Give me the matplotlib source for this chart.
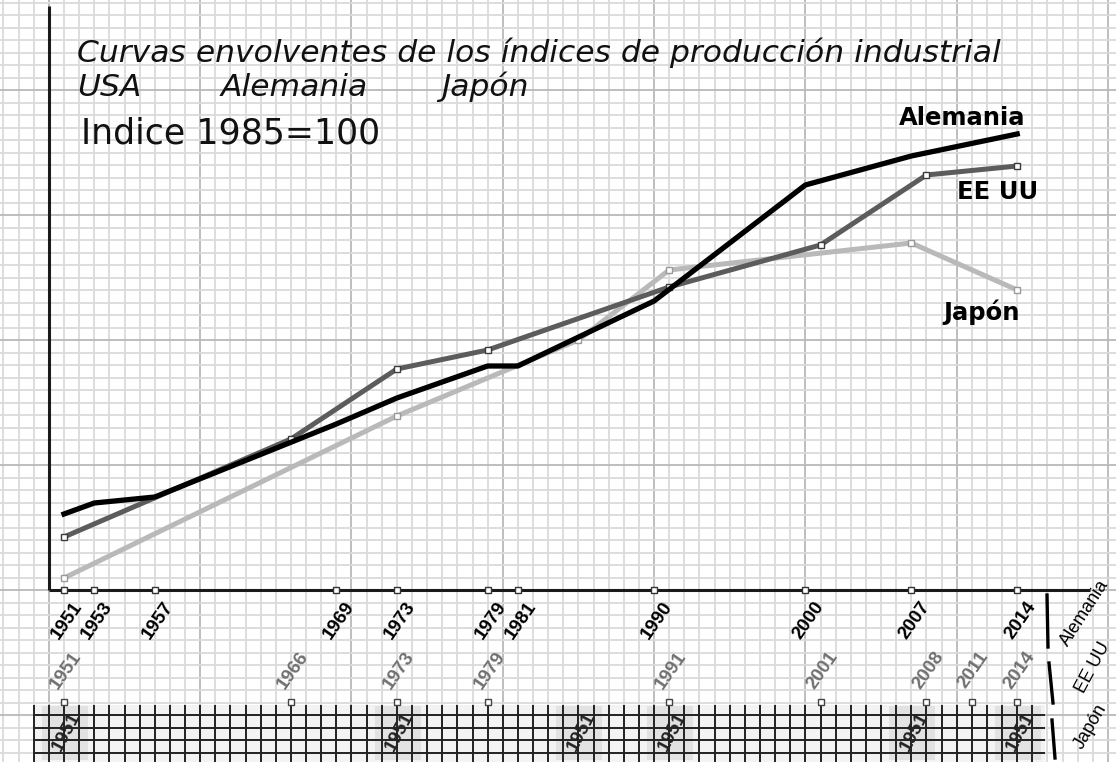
import matplotlib
matplotlib.use("Agg")
import matplotlib.pyplot as plt
import numpy as np
from matplotlib.patches import Rectangle

# ---------------- data ----------------
alemania_years = [1951, 1953, 1957, 1969, 1973, 1979, 1981, 1990, 2000, 2007, 2014]
alemania_vals = [30.4, 34.8, 37.2, 66.4, 76.8, 89.6, 89.6, 115.6, 162.0, 173.6, 182.4]

eeuu_years = [1951, 1966, 1973, 1979, 1991, 2001, 2008, 2014]
eeuu_vals = [21.2, 60.4, 88.4, 96.0, 121.2, 138.0, 166.0, 169.6]

japon_years = [1951, 1973, 1985, 1991, 2007, 2014]
japon_vals = [4.8, 69.6, 100.0, 128.0, 138.8, 120.0]

alemania_ticks = [1951, 1953, 1957, 1969, 1973, 1979, 1981, 1990, 2000, 2007, 2014]
eeuu_ticks = [1951, 1966, 1973, 1979, 1991, 2001, 2008, 2011, 2014]
japon_ticks = [1951, 1973, 1985, 1991, 2007, 2014]
japon_tick_labels = ["1951", "1951", "1951", "1951", "1951", "1951"]

title_line1 = "Curvas envolventes de los índices de producción industrial"
title_line2 = ["USA", "Alemania", "Japón"]
subtitle = "Indice 1985=100"
row_names = ["Alemania", "EE UU", "Japón"]

# ---------------- layout helpers ----------------
W, H = 1116, 762
PXY = 15.13          # pixels per year
PXV = 2.5            # pixels per index unit
X0 = 1951 - 64 / PXY
X1 = 1951 + (W - 64) / PXY
Y1 = 590 / PXV
Y0 = (590 - H) / PXV


def fx(px):
    return X0 + px / PXY


def fy(py):
    return (590 - py) / PXV


fig = plt.figure(figsize=(W / 100, H / 100), dpi=100)
ax = fig.add_axes([0, 0, 1, 1])
ax.set_xlim(X0, X1)
ax.set_ylim(Y0, Y1)
for s in ax.spines.values():
    s.set_visible(False)

# graph-paper grid
ax.set_xticks(np.arange(1950, 2021, 10))
ax.set_xticks(np.arange(1947, 2021, 1), minor=True)
ax.set_yticks(np.arange(-50, 236, 50))
ax.set_yticks(np.arange(-65, 236, 5), minor=True)
ax.tick_params(which="both", length=0, labelbottom=False, labelleft=False)
ax.grid(which="minor", color="#dadada", lw=1.3)
ax.grid(which="major", color="#b9b9b9", lw=1.3)
ax.set_axisbelow(True)

# axes lines
ax.plot([fx(49), fx(49)], [0, fy(6)], color="#1a1a1a", lw=2.2, zorder=3, solid_capstyle="butt")
ax.plot([fx(49), fx(1090)], [0, 0], color="#1a1a1a", lw=2.2, zorder=3, solid_capstyle="butt")

# series
ax.plot(japon_years, japon_vals, color="#b9b9b9", lw=3.6, zorder=4,
        marker="s", ms=4.2, mfc="white", mec="#9a9a9a", mew=1.0)
ax.plot(eeuu_years, eeuu_vals, color="#5c5c5c", lw=3.6, zorder=5,
        marker="s", ms=4.2, mfc="white", mec="#3c3c3c", mew=1.0)
ax.plot(alemania_years, alemania_vals, color="#000000", lw=3.8, zorder=6)

# series labels
lab_kw = dict(fontfamily="DejaVu Sans", fontweight="bold", fontsize=17.5, ha="center",
              va="center", color="black", zorder=7)
ax.text(fx(962), fy(118), row_names[0], **lab_kw)
ax.text(fx(998), fy(192), row_names[1], **lab_kw)
ax.text(fx(982), fy(312), row_names[2], **lab_kw)

# titles
ax.text(fx(77), fy(62), title_line1, fontfamily="DejaVu Sans", style="italic",
        fontsize=22.6, ha="left", va="baseline", color="#111111", zorder=7)
for px, t in zip([77, 221, 441], title_line2):
    ax.text(fx(px), fy(96), t, fontfamily="DejaVu Sans", style="italic",
            fontsize=22.6, ha="left", va="baseline", color="#111111", zorder=7)
ax.text(fx(81), fy(143), subtitle, fontfamily="DejaVu Sans", fontsize=25,
        ha="left", va="baseline", color="#111111", zorder=7)

# ---------------- row 1: Alemania ----------------
ax.plot(alemania_ticks, [0] * len(alemania_ticks), ls="none", marker="s", ms=4.2,
        mfc="white", mec="#333333", mew=1.0, zorder=6)
for yr in alemania_ticks:
    ax.text(yr + 3 / PXY, fy(620), str(yr), rotation=55, rotation_mode="anchor",
            ha="center", va="center", fontfamily="Liberation Sans", fontweight="bold",
            fontsize=13.5, color="black", zorder=7)

# ---------------- row 2: EE UU ----------------
y_row2 = fy(702)
ax.plot(eeuu_ticks, [y_row2] * len(eeuu_ticks), ls="none", marker="s", ms=4.2,
        mfc="white", mec="#444444", mew=1.0, zorder=6)
for yr in eeuu_ticks:
    ax.text(yr + 2 / PXY, fy(670), str(yr), rotation=55, rotation_mode="anchor",
            ha="center", va="center", fontfamily="Liberation Sans", fontweight="bold",
            fontsize=13.5, color="#707070", zorder=7)

# ---------------- row 3: Japón (dark grid) ----------------
ax.add_patch(Rectangle((fx(35), fy(762)), fx(1045) - fx(35), fy(705) - fy(762),
                       facecolor="#f3f3f3", edgecolor="none", zorder=2))
for yr in japon_ticks:
    ax.add_patch(Rectangle((yr - 22 / PXY, fy(760)), 46 / PXY, 54 / PXV,
                           facecolor="#dedede", edgecolor="none", alpha=0.8, zorder=2))
ax.vlines(np.arange(1949, 2016), fy(762), fy(705), color="#222222", lw=1.4, zorder=3)
ax.hlines([fy(715), fy(727.5), fy(740), fy(752.5)], fx(35), fx(1045),
          color="#222222", lw=1.4, zorder=3)
for yr, lab in zip(japon_ticks, japon_tick_labels):
    ax.text(yr + 3 / PXY, fy(732), lab, rotation=62, rotation_mode="anchor",
            ha="center", va="center", fontfamily="Liberation Sans", fontweight="bold",
            fontsize=13.5, color="#222222", zorder=7)

# right side separators and row names
seps = [((1047, 595), (1048, 647)), ((1049, 663), (1053, 703)), ((1052, 720), (1055, 758))]
for (a, b) in seps:
    ax.plot([fx(a[0]), fx(b[0])], [fy(a[1]), fy(b[1])], color="black", lw=2.4, zorder=7)
ax.text(fx(1085), fy(613), row_names[0], rotation=57, rotation_mode="anchor",
        ha="center", va="center", fontfamily="Liberation Sans", fontsize=13, color="black", zorder=7)
ax.text(fx(1093), fy(668), row_names[1], rotation=62, rotation_mode="anchor",
        ha="center", va="center", fontfamily="Liberation Sans", fontsize=13, color="black", zorder=7)
ax.text(fx(1091), fy(727), row_names[2], rotation=60, rotation_mode="anchor",
        ha="center", va="center", fontfamily="Liberation Sans", fontsize=13, color="black", zorder=7)

fig.savefig("out.png", dpi=100)
